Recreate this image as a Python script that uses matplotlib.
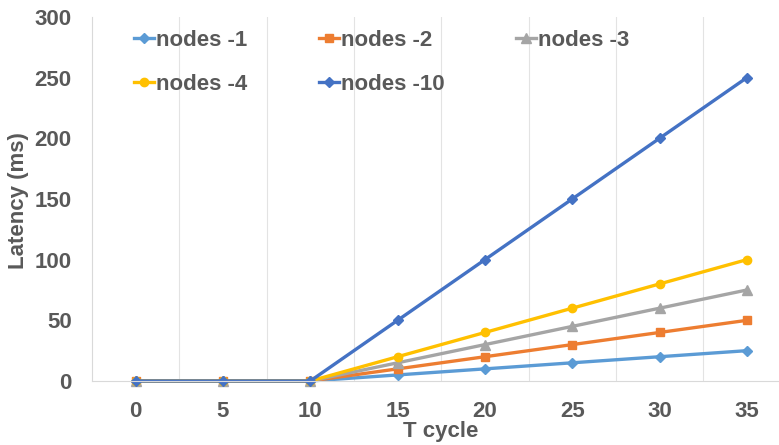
import matplotlib
matplotlib.use("Agg")
import matplotlib.pyplot as plt
from matplotlib.ticker import FixedLocator

plt.rcParams['font.family'] = ['Liberation Sans', 'DejaVu Sans']

t_cycle = [0, 5, 10, 15, 20, 25, 30, 35]
nodes_1 = [0, 0, 0, 5, 10, 15, 20, 25]
nodes_2 = [0, 0, 0, 10, 20, 30, 40, 50]
nodes_3 = [0, 0, 0, 15, 30, 45, 60, 75]
nodes_4 = [0, 0, 0, 20, 40, 60, 80, 100]
nodes_10 = [0, 0, 0, 50, 100, 150, 200, 250]

series = [
    ("nodes -1", nodes_1, "#5B9BD5", "D", 5),
    ("nodes -2", nodes_2, "#ED7D31", "s", 6),
    ("nodes -3", nodes_3, "#A5A5A5", "^", 6.5),
    ("nodes -4", nodes_4, "#FFC000", "o", 6),
    ("nodes -10", nodes_10, "#4472C4", "D", 5),
]

txt = "#595959"
W, H = 779, 445
fig = plt.figure(figsize=(W / 100, H / 100), dpi=100)
ax_left, ax_right, ax_top, ax_bot = 92, 779, 17, 381
aw, ah = ax_right - ax_left, ax_bot - ax_top
ax = fig.add_axes([ax_left / W, (H - ax_bot) / H, aw / W, ah / H])

pos = list(range(len(t_cycle)))
lines = []
for name, vals, col, mk, ms in series:
    ln, = ax.plot(pos, vals, color=col, lw=2.4, marker=mk, markersize=ms,
                  label=name, clip_on=False)
    lines.append(ln)

ax.set_ylim(0, 300)
ax.set_yticks(range(0, 301, 50))
ax.set_xlim(-0.5, (779 - 135) / 87.4)
ax.set_xticks(pos)
ax.set_xticklabels([str(v) for v in t_cycle])
ax.xaxis.set_minor_locator(FixedLocator([p + 0.5 for p in pos]))
ax.grid(which='minor', axis='x', color='#E3E3E3', lw=0.8)
ax.set_axisbelow(True)

for s in ['top', 'right']:
    ax.spines[s].set_visible(False)
for s in ['left', 'bottom']:
    ax.spines[s].set_color('#D9D9D9')
    ax.spines[s].set_linewidth(0.8)

ax.tick_params(axis='both', which='both', length=0, labelsize=16,
               labelcolor=txt)
ax.tick_params(axis='x', pad=14.5)
ax.tick_params(axis='y', pad=14.5)
for lab in ax.get_xticklabels() + ax.get_yticklabels():
    lab.set_fontweight('bold')

ax.set_xlabel("T cycle", fontsize=16, fontweight='bold', color=txt)
ax.xaxis.set_label_coords((441 - ax_left) / aw, -(421 - ax_bot) / ah)
ax.set_ylabel("Latency (ms)", fontsize=16, fontweight='bold', color=txt)
ax.yaxis.set_label_coords(-(ax_left - 29) / aw, (ax_bot - 201) / ah)

# row-major order: legend fills columns first
order = [0, 3, 1, 4, 2]
leg = ax.legend([lines[i] for i in order], [series[i][0] for i in order],
                ncol=3, loc='upper left',
                bbox_to_anchor=((134 - ax_left) / aw, 0.965),
                frameon=False, fontsize=16, handlelength=0.9,
                handletextpad=0.1, columnspacing=3.2, labelspacing=1.05,
                borderpad=0, borderaxespad=0)
for t in leg.get_texts():
    t.set_color(txt)
    t.set_fontweight('bold')

fig.savefig("out.png", dpi=100)
